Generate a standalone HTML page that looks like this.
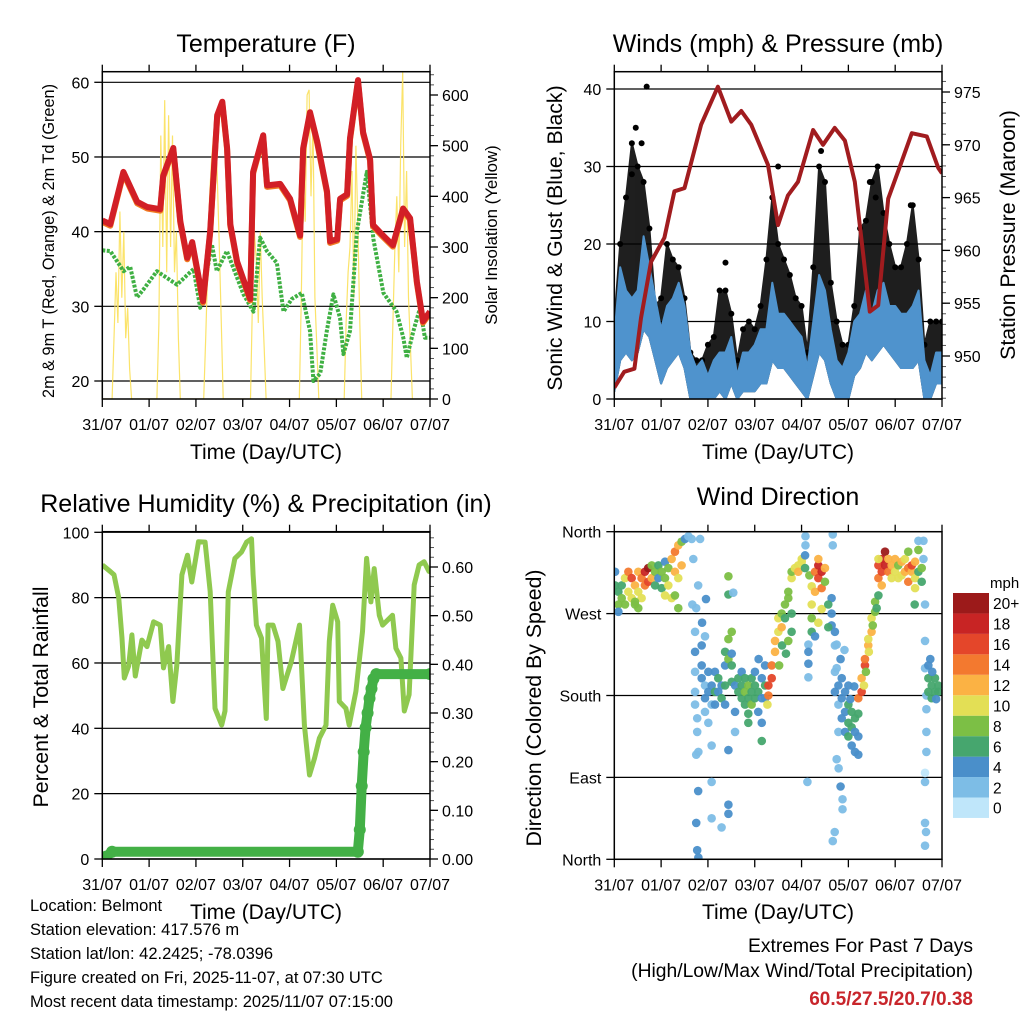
<!DOCTYPE html>
<html><head><meta charset="utf-8"><title>Weather station</title>
<style>
body{margin:0;background:#fff;}
svg{display:block;font-family:"Liberation Sans",Arial,sans-serif;}
</style></head>
<body>
<svg id="root" width="1024" height="1024" viewBox="0 0 1024 1024">
<rect x="0" y="0" width="1024" height="1024" fill="#fff"/>
<defs>
<clipPath id="c1"><rect x="102.3" y="71.7" width="327.7" height="327.3"/></clipPath>
<clipPath id="c2"><rect x="614.3" y="71.7" width="327.7" height="327.3"/></clipPath>
<clipPath id="c3"><rect x="102.3" y="531.7" width="327.7" height="327.3"/></clipPath>
<clipPath id="c4"><rect x="614.3" y="531.7" width="327.7" height="327.6"/></clipPath>
</defs>
<text x="266" y="52" font-size="25" text-anchor="middle">Temperature (F)</text>
<text x="778" y="52" font-size="25" text-anchor="middle">Winds (mph) &amp; Pressure (mb)</text>
<text x="266" y="512" font-size="25" text-anchor="middle">Relative Humidity (%) &amp; Precipitation (in)</text>
<text x="778" y="505" font-size="25" text-anchor="middle">Wind Direction</text>
<text x="266" y="459" font-size="21" text-anchor="middle">Time (Day/UTC)</text>
<text x="778" y="459" font-size="21" text-anchor="middle">Time (Day/UTC)</text>
<text x="266" y="919" font-size="21" text-anchor="middle">Time (Day/UTC)</text>
<text x="778" y="919" font-size="21" text-anchor="middle">Time (Day/UTC)</text>
<text transform="translate(54,241) rotate(-90)" font-size="16.3" text-anchor="middle">2m &amp; 9m T (Red, Orange) &amp; 2m Td (Green)</text>
<text transform="translate(497,235) rotate(-90)" font-size="16.8" text-anchor="middle">Solar Insolation (Yellow)</text>
<text transform="translate(562,238) rotate(-90)" font-size="21.3" text-anchor="middle">Sonic Wind &amp; Gust (Blue, Black)</text>
<text transform="translate(1015,235) rotate(-90)" font-size="21.3" text-anchor="middle">Station Pressure (Maroon)</text>
<text transform="translate(48,697) rotate(-90)" font-size="21.3" text-anchor="middle">Percent &amp; Total Rainfall</text>
<text transform="translate(541,708) rotate(-90)" font-size="21.3" text-anchor="middle">Direction (Colored By Speed)</text>
<g font-size="16.5">
<text x="30" y="911">Location: Belmont</text>
<text x="30" y="935">Station elevation: 417.576 m</text>
<text x="30" y="959">Station lat/lon: 42.2425; -78.0396</text>
<text x="30" y="983">Figure created on Fri, 2025-11-07, at 07:30 UTC</text>
<text x="30" y="1007">Most recent data timestamp: 2025/11/07 07:15:00</text>
</g>
<text x="973" y="952" font-size="19.3" text-anchor="end">Extremes For Past 7 Days</text>
<text x="973" y="977" font-size="19.3" text-anchor="end">(High/Low/Max Wind/Total Precipitation)</text>
<text x="973" y="1005" font-size="19" font-weight="bold" fill="#c8252b" text-anchor="end">60.5/27.5/20.7/0.38</text>
<g id="layer"></g>
</svg>
<script>
const dayLabels=["31/07","01/07","02/07","03/07","04/07","05/07","06/07","07/07"];
const tempTicks=[20,30,40,50,60];
const solarTicks=[0,100,200,300,400,500,600];
const windTicks=[0,10,20,30,40];
const presTicks=[950,955,960,965,970,975];
const rhTicks=[0,20,40,60,80,100];
const precipTicks=[0,0.1,0.2,0.3,0.4,0.5,0.6];
const dirTicks=[0,90,180,270,360];
const dirLabels=["North","East","South","West","North"];
// temperature (hours, F)
const tempHours=[0,4.1,10.8,17.9,23,29.7,31.2,36.4,40,43.5,46.1,51.6,55.3,58.9,61.5,64,65.6,69.1,75.8,77.3,82.5,84.5,91.2,96.3,101.4,103,106.5,110.2,115.2,116.8,120.4,121.9,125.5,127,131.1,133.7,137.3,138.8,143.9,149,154.2,157.8,161.3,164.4,168];
const tempVals=[41.5,41,48,44,43.3,43,47.5,51.2,41.4,36.5,38.6,30.7,40.1,55.6,57.4,51.2,41,36,31,48,52.9,46.2,46.4,44.4,39.5,51.2,56,52,45.4,38.7,39,44.4,45,52.5,60.3,53.3,49.7,40.9,39.5,38.2,43.1,41.8,33.3,28,29.3];
const dewHours=[0,4.1,10.9,14.3,17.8,21.2,28,38.3,46.8,50.2,56.2,58.7,63.9,72.4,77.5,80.9,84.4,89.5,92.9,97.2,102.3,106.5,108.2,111.7,115.1,118.5,121.9,123.6,127,130.5,135.6,139,144.1,150.9,154.3,156.1,159.5,162.9,165.4,168];
const dewVals=[37.5,37.4,34.7,35.3,31.2,32.3,34.7,32.9,35,29.8,38.3,34.7,37.4,31.6,29.3,39.2,37.4,35.8,29.3,31,31.8,26.7,20,21,26.7,31.6,28.4,23.6,26.7,40,48,39,31.8,29.3,25.8,23.1,26.7,29.8,25.8,25.8];
const solarHours=[0,5,6,7,8,9,10,11,12,13,14,15,28,29,30,31,32,33,34,35,36,37,38,39,40,52,53,54,55,56,57,58,59,60,61,62,76,77,78,79,80,81,82,83,84,101,102,103,104,105,106,107,108,109,110,111,124,125,126,127,128,129,130,131,132,133,148,149,150,151,152,153,154,155,156,157,158,159,168];
const solarVals=[0,0,120,250,150,370,200,330,120,180,60,0,0,150,520,300,590,250,560,300,520,250,330,120,0,0,120,250,400,470,520,547,430,300,150,0,0,200,330,270,150,330,200,100,0,0,200,450,350,600,610,400,550,200,100,0,0,150,250,300,450,200,500,350,150,0,0,150,300,400,250,500,646,300,450,200,100,0,0];
// winds on 3-hour grid (mph)
const windHours=[0,3,6,9,12,15,18,21,24,27,30,33,36,39,42,45,48,51,54,57,60,63,66,69,72,75,78,81,84,87,90,93,96,99,102,105,108,111,114,117,120,123,126,129,132,135,138,141,144,147,150,153,156,159,162,165,168];
const windHi=[8,17,14,13,14,21,17,13,9,12,13,15,12,6,4,5,3,5,6,6,8,3,6,6,7,9,9,15,11,11,10,9,8,4,10,16,14,9,5,4,6,10,11,14,11,14,15,12,12,11,11,12,14,5,3,6,6];
const windLo=[1,5,6,5,6,9,8,5,2,4,5,6,4,0,0,0,0,0,1,0,2,0,1,1,1,2,2,5,4,4,3,2,1,0,3,6,5,2,0,0,0,3,4,6,5,6,7,6,5,4,4,4,5,0,0,2,2];
const gustHi=[10,20,26,33,30,28,22,12,13,20,18,17,13,6,5,5,7,8,14,14,11,5,9,10,9,12,18,26,20,18,16,13,12,6,17,30,28,15,10,7,7,12,22,23,28,30,24,20,17,17,20,25,18,7,10,10,10];
const gustPeakHours=[16.6,11,14,9,57,84,106,131,134,152];
const gustPeakVals=[40.3,35,33,29,17.6,30,32,28,26,25];
const presHours=[0,5.1,10.3,13.7,18.8,25.7,30.8,36,44.5,53.1,60,65.1,70.2,78.8,83.9,89,94.2,101.9,107,113,118.2,123.3,131,135.3,140.4,147.3,152.5,160.2,166.1,168];
const presVals=[947,948.5,948.8,953.6,958.9,961.2,965.6,965.9,971.9,975.5,972.2,973.2,971.9,968.1,962.4,965.2,966.5,971.4,970,971.6,970.4,966.5,954.2,954.8,964.9,968.4,971.1,970.8,967.8,967.3];
// humidity & precipitation
const rhHours=[0,4.1,6,8.4,10.1,11.3,13.5,15.2,16.9,20.3,22.9,26.3,29.7,31.4,34,36.2,38.2,40.8,43.7,45.9,49.3,52.7,55.3,57.8,61.2,62.9,64.6,68,71.4,74,76.5,77.3,79,81.6,84.1,85,87.5,90.1,92.6,96.9,101.1,103.6,106.2,108.8,111.3,114.7,116.4,118.1,120.7,121.5,124.9,126.6,130,133.4,135.5,137.7,139.4,142,143.7,148.8,150.5,153.1,154.8,157.3,159.9,162.4,165,167.5,168];
const rhVals=[90,88,87,80,67.6,55.4,59,68.6,56,67,65,72.6,71.6,58.5,65,48.2,59.3,87,93,84.8,97.1,97,81.8,46.1,41,45.3,81.8,92,94,97,98,87,71.6,67.6,43,71.6,71.6,66.6,52.2,60.4,71.6,41,25.7,30.8,37,41,66.6,77.7,72.6,48.2,46.1,41,51.3,69.6,92,78.7,88.9,74.6,71.6,74.6,64.5,61.5,45.3,50.3,83.9,90,91,88,88];
const precipHours=[0,2,5,131,132,133,134,135,136,137,138,139,140.5,168];
const precipVals=[0,0.005,0.015,0.015,0.06,0.15,0.22,0.27,0.30,0.33,0.35,0.37,0.38,0.38];
// wind direction scatter: hour, degrees, speed (mph)
const dirHours=[0.4,0.4,2.1,2.1,3.8,3.8,5.5,5.5,7.2,7.2,8.9,8.9,10.6,10.6,12.3,12.3,14,14,15.7,15.7,17.4,17.4,19.2,19.2,20.9,20.9,22.6,22.6,24.3,24.3,26,26,27.7,27.7,29.4,29.4,31.1,31.1,32.8,32.8,34.5,34.5,2.1,12.3,10.6,26,32.8,31.1,36.2,39.7,38,40.5,44,43,40,42,
41.4,41.4,41.4,41.4,41.4,42.5,42.5,43.1,43.1,42.5,42,43,42,44.8,44.8,44.8,46.5,46.5,46.5,48.2,48.2,48.2,49.9,49.9,49.9,49.9,49.9,51.6,51.6,51.6,53.3,53.3,55,55,55,56.8,56.8,56.8,46.5,45,47,56.8,58.5,58.5,58.5,58.5,60.2,60.2,60.2,58.5,58.5,58.5,60.2,61,
61.9,61.9,61.9,63.6,63.6,65.3,65.3,65.3,67,67,67,68.7,68.7,68.7,68.7,70.4,70.4,70.4,72.1,72.1,72.1,73.8,73.8,75.6,75.6,75.6,75.6,77.3,77.3,77.3,74,78.5,
79,79,80.7,80.7,82.4,82.4,84.1,84.1,85.8,85.8,87.5,87.5,89.2,89.2,90.9,90.9,92.6,94.3,94.3,96.1,96.1,97.8,97.8,86,84.5,88,89.2,90.9,90.9,
100,101.2,101.2,101.2,101.2,102.9,102.9,104.6,104.6,104.6,106.3,106.3,108,108,106.3,104.6,102.9,99.5,99.5,99.5,99.5,98,98,111.4,111.4,111.4,113.1,113.1,109.7,109.7,99,112,112,112,113,114,
113.1,113.1,114.9,114.9,114.9,116.6,116.6,116.6,118.3,118.3,118.3,120,120,120,120,121.7,121.7,121.7,123.4,123.4,123.4,125.1,125.1,125.1,114,115,116,117,117,114,116,118,121,123,
125.1,126.8,126.8,128.5,128.5,130.2,130.2,131.9,131.9,133.7,133.7,135.4,128,129,130.5,132.5,134.5,
135.4,135.4,137.1,137.1,137.1,138.8,138.8,140.5,140.5,142.2,142.2,143.9,143.9,145.6,145.6,147.3,147.3,149,149,150.7,150.7,150.7,152.5,152.5,154.2,154.2,154.2,155.9,155.9,157.6,157.6,135.4,154,155.9,
158.5,158.5,159.3,159.3,159.3,160,160,160,160,159.3,159.3,159.3,159.8,159.3,161,161,162.7,162.7,164.4,164.4,166.1,166.1,162,161,163,165];
const dirDegs=[301,316,294,280,301,287,309,280,316,294,309,287,301,280,294,316,287,309,316,301,320,305,309,323,316,301,323,309,316,298,309,327,320,301,330,287,316,338,345,309,323,349,272,276,283,290,276,290,352,352,355,330,352,301,280,276,
250,228,206,184,170,155,140,118,2,10,40,75,115,235,213,199,191,177,162,206,184,150,191,170,125,85,45,206,184,170,199,184,191,177,35,213,191,170,245,260,286,228,242,220,291,311,250,213,195,60,50,120,226,293,
191,162,140,184,199,177,191,206,184,170,199,177,191,160,150,184,170,199,191,177,206,184,162,177,199,150,130,213,191,177,220,170,
180,191,199,213,228,240,250,265,270,255,280,265,294,287,309,316,320,323,316,327,330,334,320,235,213,226,240,250,270,
312,300,280,265,250,294,316,323,309,330,316,298,320,305,275,260,245,236,228,215,200,355,345,287,270,257,250,235,255,280,85,357,345,20,30,236,
206,184,191,170,140,199,177,155,184,162,140,191,170,150,135,162,145,125,155,140,118,160,135,115,110,100,80,66,55,210,220,230,176,190,
177,184,199,213,220,235,242,250,265,272,283,290,191,206,228,257,276,
309,323,330,316,301,338,323,316,330,323,309,316,330,323,309,327,312,316,330,320,305,338,316,323,309,327,298,316,340,320,305,330,280,350,
350,330,280,240,210,180,165,140,118,95,85,40,30,15,199,184,191,177,184,199,184,191,220,213,206,176];
const dirSpeeds=[5,3,6,7,6,8,10,7,13,10,15,9,12,8,10,12,9,14,18,13,20,15,12,7,7,6,5,4,7,6,8,3,7,9,12,10,11,13,12,9,11,7,4,8,8,9,8,7,3,2,1,2,1,1,2,2,
2,3,2,1,1,1,2,2,4,4,3,3,1,3,4,3,2,4,1,4,3,1,4,2,1,1,1,4,5,4,5,4,4,5,2,4,5,3,2,3,3,6,8,7,6,7,7,6,5,3,3,4,4,1,
4,3,2,6,5,6,5,4,7,6,6,6,7,6,6,6,7,5,6,5,4,5,4,4,4,3,6,4,5,3,3,10,
14,15,16,13,11,12,10,9,8,12,7,6,7,8,9,8,10,9,11,10,9,4,5,6,7,6,7,6,6,
8,10,9,8,6,12,13,18,15,12,17,14,12,8,10,9,4,2,3,3,2,1,2,4,3,4,3,2,6,5,1,1,2,1,2,2,
2,3,3,2,2,3,4,4,4,3,4,4,5,6,5,6,6,4,5,4,4,5,4,3,2,2,3,2,2,2,3,2,3,4,
14,15,12,16,14,12,10,11,9,8,7,6,9,8,9,8,6,
14,16,18,15,12,20,17,14,11,12,10,9,12,8,10,11,9,12,10,13,14,8,11,15,9,12,10,6,8,7,6,9,6,1,
1,1,1,1,2,2,1,1,1,0,1,1,1,1,5,6,6,5,6,5,6,5,4,3,3,4];
const speedColors=["#bfe6fa","#7dbde6","#4a8fca","#46a66e","#7cbf45","#e3df55","#fbb244","#f3792f","#e4462a","#c82424","#9c1a1a"];
const speedLabels=["0","2","4","6","8","10","12","14","16","18","20+"];

const NS="http://www.w3.org/2000/svg";
const layer=document.getElementById('layer');
function mk(tag,attrs,parent){const e=document.createElementNS(NS,tag);for(const k in attrs)e.setAttribute(k,attrs[k]);(parent||layer).appendChild(e);return e;}
function lin(d0,d1,r0,r1){return v=>r0+(v-d0)/(d1-d0)*(r1-r0);}
function pts(xs,ys,fx,fy){return xs.map((h,i)=>fx(h).toFixed(1)+","+fy(ys[i]).toFixed(1)).join(" ");}

const P=[
 {x0:102.3,x1:430,t:71.7,b:399,clip:"c1"},
 {x0:614.3,x1:942,t:71.7,b:399,clip:"c2"},
 {x0:102.3,x1:430,t:531.7,b:859,clip:"c3"},
 {x0:614.3,x1:942,t:531.7,b:859.3,clip:"c4"}];
P.forEach(p=>{p.X=lin(0,168,p.x0,p.x1);});
const TF=16;

function xAxis(p,name){
 dayLabels.forEach((d,i)=>{
  const x=p.X(i*24);
  const tb=mk('line',{x1:x,x2:x,y1:p.b,y2:p.b+8,stroke:'#000','stroke-width':1.3});
  
  
  const tt=mk('line',{x1:x,x2:x,y1:p.t,y2:p.t-7,stroke:'#000','stroke-width':1.3});
  
  
  const t=mk('text',{x:x,y:p.b+31,'font-size':TF,'text-anchor':'middle'});
  t.textContent=d;
  
  
 });
}
function leftAxis(p,ticks,fy,labels,name,grid){
 ticks.forEach((v,i)=>{
  const y=fy(v);
  if(grid){const g=mk('line',{x1:p.x0,x2:p.x1,y1:y,y2:y,stroke:'#000','stroke-width':1.2});
   
   }
  const tk=mk('line',{x1:p.x0-8,x2:p.x0,y1:y,y2:y,stroke:'#000','stroke-width':1.3});
  
  
  const t=mk('text',{x:p.x0-13,y:y+6,'font-size':TF,'text-anchor':'end'});
  t.textContent=labels?labels[i]:String(v);
  
  
 });
}
function rightAxis(p,ticks,fy,fmt,minorStep,name){
 const lo=ticks[0]-minorStep*20, hi=ticks[ticks.length-1]+minorStep*20;
 for(let k=Math.ceil(lo/minorStep);k*minorStep<=hi;k++){
  const y=fy(k*minorStep);
  if(y<p.t-0.5||y>p.b+0.5)continue;
  const m=mk('line',{x1:p.x1,x2:p.x1+4,y1:y,y2:y,stroke:'#555','stroke-width':1});
  
  
 }
 ticks.forEach(v=>{
  const y=fy(v);
  const tk=mk('line',{x1:p.x1,x2:p.x1+8,y1:y,y2:y,stroke:'#000','stroke-width':1.3});
  
  
  const t=mk('text',{x:p.x1+12,y:y+6,'font-size':TF});
  t.textContent=fmt(v);
  
  
 });
}
function frame(p,name){
 const r=mk('rect',{x:p.x0,y:p.t,width:p.x1-p.x0,height:p.b-p.t,fill:'none',stroke:'#000','stroke-width':1.5});
 
 
}

// ---- Panel 1: temperature ----
const p1=P[0];
const tY=lin(20,60,381,82.3), sY=lin(0,600,399,95);
leftAxis(p1,tempTicks,tY,null,'temp',true);
rightAxis(p1,solarTicks,sY,v=>String(v),20,'solar');
xAxis(p1,'temp');
const g1=mk('g',{'clip-path':'url(#c1)'});


const sol=mk('polyline',{points:pts(solarHours,solarVals,p1.X,sY),fill:'none',stroke:'#fbe05a','stroke-width':1.2,opacity:0.9},g1);


const dew=mk('polyline',{points:pts(dewHours,dewVals,p1.X,tY),fill:'none',stroke:'#3fb043','stroke-width':4,'stroke-dasharray':'3 1.5','stroke-linejoin':'round'},g1);


const or=mk('polyline',{points:pts(tempHours,tempVals,p1.X,tY),fill:'none',stroke:'#f07a22','stroke-width':6,'stroke-linejoin':'round',transform:'translate(0,1.5)'},g1);


const rd=mk('polyline',{points:pts(tempHours,tempVals,p1.X,tY),fill:'none',stroke:'#d21f26','stroke-width':6,'stroke-linejoin':'round'},g1);


frame(p1,'temp');

// ---- Panel 2: winds ----
const p2=P[1];
const wY=lin(0,40,399,89), pY=lin(950,975,356,92);
leftAxis(p2,windTicks,wY,null,'wind',true);
rightAxis(p2,presTicks,pY,v=>String(v),1,'pressure');
xAxis(p2,'wind');
const g2=mk('g',{'clip-path':'url(#c2)'});


const gp=pts(windHours,gustHi,p2.X,wY)+" "+pts(windHours.slice().reverse(),windLo.slice().reverse(),p2.X,wY);
const ga=mk('polygon',{points:gp,fill:'#000',stroke:'#000','stroke-width':2,'stroke-linejoin':'round',opacity:0.88},g2);


windHours.forEach((h,i)=>{
 const c=mk('circle',{cx:p2.X(h),cy:wY(gustHi[i]),r:3,fill:'#000'},g2);
 
 
});
gustPeakHours.forEach((h,i)=>{
 const c=mk('circle',{cx:p2.X(h),cy:wY(gustPeakVals[i]),r:3,fill:'#000'},g2);
 
 
});
const bp=pts(windHours,windHi,p2.X,wY)+" "+pts(windHours.slice().reverse(),windLo.slice().reverse(),p2.X,wY);
const ba=mk('polygon',{points:bp,fill:'#4f93cd',stroke:'#4f93cd','stroke-width':2,'stroke-linejoin':'round'},g2);


const pl=mk('polyline',{points:pts(presHours,presVals,p2.X,pY),fill:'none',stroke:'#a11c1f','stroke-width':4,'stroke-linejoin':'round'},g2);


frame(p2,'wind');

// ---- Panel 3: RH & precip ----
const p3=P[2];
const rY=lin(0,100,859,532.3), prY=lin(0,0.6,859,567);
leftAxis(p3,rhTicks,rY,null,'rh',true);
rightAxis(p3,precipTicks,prY,v=>v.toFixed(2),0.02,'precip');
xAxis(p3,'rh');
const g3=mk('g',{'clip-path':'url(#c3)'});


const rl=mk('polyline',{points:pts(rhHours,rhVals,p3.X,rY),fill:'none',stroke:'#8fc94f','stroke-width':5,'stroke-linejoin':'round'},g3);


const pr=mk('polyline',{points:pts(precipHours,precipVals,p3.X,prY),fill:'none',stroke:'#43b046','stroke-width':10,'stroke-linejoin':'round','stroke-linecap':'round'},g3);


precipHours.forEach((h,i)=>{
 const c=mk('circle',{cx:p3.X(h),cy:prY(precipVals[i]),r:6,fill:'#43b046'},g3);
 
 
});
frame(p3,'rh');

// ---- Panel 4: wind direction ----
const p4=P[3];
const dY=lin(0,360,859.3,531.7);
leftAxis(p4,dirTicks,dY,dirLabels,'dir',true);
xAxis(p4,'dir');
const g4=mk('g',{'clip-path':'url(#c4)'});


dirHours.forEach((h,i)=>{
 const bin=Math.min(10,Math.floor((dirSpeeds[i]+1)/2));
 const c=mk('circle',{cx:p4.X(h),cy:dY(dirDegs[i]),r:4.3,fill:speedColors[bin],opacity:0.95},g4);
 
 
});
frame(p4,'dir');

// colorbar
const cbTop=593,cbH=20.45,cbX=953,cbW=36;
const mph=mk('text',{x:990,y:588,'font-size':15});
mph.textContent='mph';


speedColors.forEach((c,i)=>{
 const y=cbTop+(10-i)*cbH;
 const r=mk('rect',{x:cbX,y:y,width:cbW,height:cbH,fill:c});
 
 
 const t=mk('text',{x:993,y:y+cbH/2+6,'font-size':15.5});
 t.textContent=speedLabels[i];
 
 
});
</script>
</body></html>
